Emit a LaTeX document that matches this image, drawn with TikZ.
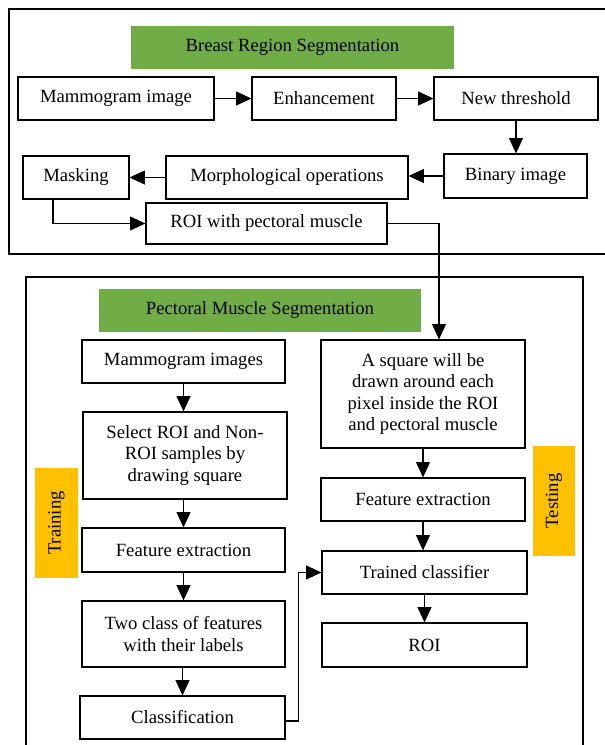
\documentclass[tikz,border=0pt]{standalone}
\usepackage{fontspec}
\setmainfont{Liberation Serif}
\usetikzlibrary{arrows.meta,calc}
\definecolor{hdrgreen}{HTML}{70AD47}
\definecolor{tagyellow}{HTML}{FFC000}
\begin{document}
\begin{tikzpicture}[x=0.75pt,y=-0.75pt,
  font=\fontsize{14pt}{16pt}\selectfont,
  bsize/.style 2 args={minimum width=#1*0.75pt, minimum height=#2*0.75pt},
  box/.style={draw=black, line width=0.9pt, inner sep=0pt, align=center, fill=white},
  hdr/.style={fill=hdrgreen, inner sep=0pt, align=center},
  tag/.style={fill=tagyellow, inner sep=0pt, rotate=90},
  frame/.style={draw=black, line width=0.8pt},
  arr/.style={line width=0.8pt, -{Triangle[length=11.5pt,width=10.5pt]}},
  conn/.style={line width=0.8pt}]
\useasboundingbox (0,0) rectangle (605,745);
\clip (0,0) rectangle (605,745);
% frames
\draw[frame] (9,9) rectangle (640,254);
\draw[frame] (26,277) rectangle (583,790);
% ---- Breast region segmentation
\node[hdr, bsize={323}{43}] (t1) at (292.5,47.5) {Breast Region Segmentation};
\node[box, bsize={196}{43}] (mam) at (116,98.5) {Mammogram image};
\node[box, bsize={144}{43}] (enh) at (324,98.5) {Enhancement};
\node[box, bsize={164}{43}] (thr) at (516,98.5) {New threshold};
\node[box, bsize={143}{44}] (bin) at (515.5,176) {Binary image};
\node[box, bsize={242}{43}] (mor) at (287,177.5) {Morphological operations};
\node[box, bsize={106}{43}] (mask) at (76,177.5) {Masking};
\node[box, bsize={241}{41}] (roi1) at (266.5,223.5) {ROI with pectoral muscle};
\draw[arr] (mam.east) -- (enh.west);
\draw[arr] (enh.east) -- (thr.west);
\draw[arr] (thr.south) -- (thr.south |- bin.north);
\draw[arr] (bin.west) -- (bin.west -| mor.east);
\draw[arr] (mor.west) -- (mor.west -| mask.east);
\draw[arr] ($(mask.south)+(-23,0)$) |- (roi1.west);
% ---- Pectoral muscle segmentation
\node[hdr, bsize={322}{43}] (t2) at (260,310.5) {Pectoral Muscle Segmentation};
\node[box, bsize={203}{43}] (mimg) at (183.5,361.5) {Mammogram images};
\node[box, bsize={204}{87}] (sel) at (185,455.5) {Select ROI and Non-\\ROI samples by\\drawing square};
\node[box, bsize={203}{44}] (fe1) at (183.5,550) {Feature extraction};
\node[box, bsize={203}{66}] (two) at (183.5,634) {Two class of features\\with their labels};
\node[box, bsize={205}{43}] (cls) at (182.5,717.5) {Classification};
\node[box, bsize={204}{108}] (sq) at (423,394) {A square will be\\drawn around each\\pixel inside the ROI\\and pectoral muscle};
\node[box, bsize={204}{43}] (fe2) at (423,499.5) {Feature extraction};
\node[box, bsize={205}{43}] (tc) at (424.5,572.5) {Trained classifier};
\node[box, bsize={205}{44}] (roi2) at (424.5,645) {ROI};
\node[tag, bsize={110}{43}] (train) at (56.5,523) {Training};
\node[tag, bsize={110}{42}] (test) at (554,501) {Testing};
\draw[arr] (roi1.east) -| ($(sq.north)+(16,0)$);
\draw[arr] (mimg.south) -- (mimg.south |- sel.north);
\draw[arr] (sel.south -| fe1.north) -- (fe1.north);
\draw[arr] (fe1.south) -- (two.north);
\draw[arr] (two.south -| cls.north) -- (cls.north);
\draw[arr] (sq.south) -- (fe2.north);
\draw[arr] (fe2.south) -- (fe2.south |- tc.north);
\draw[arr] (tc.south) -- (roi2.north);
\draw[arr] ($(cls.east)+(0,3.5)$) -- ++(13,0) |- (tc.west);
\end{tikzpicture}
\end{document}
